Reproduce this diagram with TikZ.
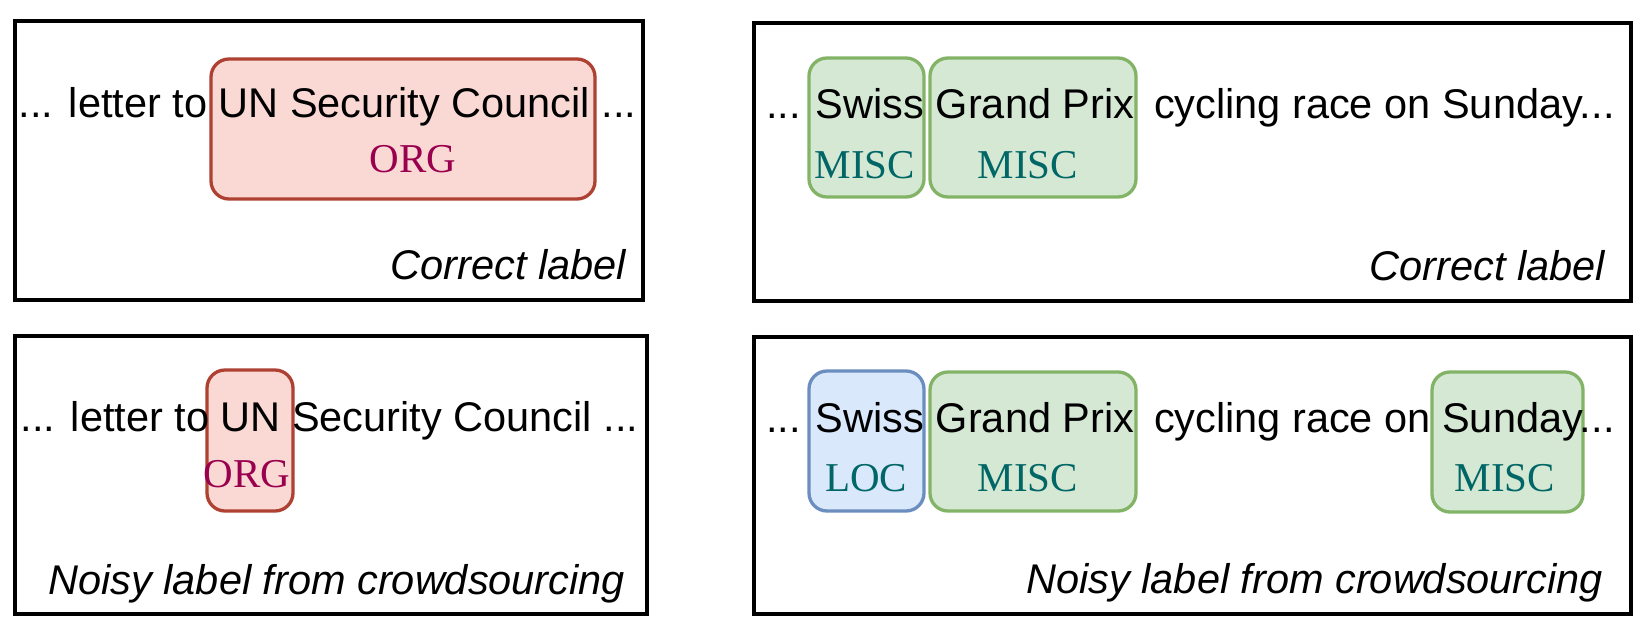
\documentclass[tikz,border=0pt]{standalone}
\usepackage{fontspec}
\newfontfamily\sentfont{Liberation Sans}
\newfontfamily\labfont{Liberation Serif}
\definecolor{redfill}{HTML}{FAD9D5}
\definecolor{redline}{HTML}{AE4132}
\definecolor{greenfill}{HTML}{D5E8D4}
\definecolor{greenline}{HTML}{82B366}
\definecolor{bluefill}{HTML}{DAE8FC}
\definecolor{blueline}{HTML}{6C8EBF}
\definecolor{orgcol}{HTML}{99004D}
\definecolor{misccol}{HTML}{006666}
\begin{document}
\begin{tikzpicture}[x=1pt,y=-1pt,
  panel/.style={draw=black,line width=3.2pt},
  entity/.style={line width=3.3pt,rounded corners=18pt},
  redent/.style={entity,draw=redline,fill=redfill},
  greenent/.style={entity,draw=greenline,fill=greenfill},
  blueent/.style={entity,draw=blueline,fill=bluefill},
  sent/.style={inner sep=0pt,outer sep=0pt,font=\sentfont\fontsize{41.5}{50}\selectfont},
  note/.style={inner sep=0pt,outer sep=0pt,font=\sentfont\itshape\fontsize{41.5}{50}\selectfont,anchor=base east},
  tag/.style={inner sep=0pt,outer sep=0pt,anchor=base,font=\labfont\fontsize{41}{48}\selectfont},
  orgtag/.style={tag,text=orgcol},
  misctag/.style={tag,text=misccol}]
\useasboundingbox (0,0) rectangle (1650,630);
% panels
\draw[panel] (15,21) rectangle (643,300);
\draw[panel] (754,23) rectangle (1631,301);
\draw[panel] (15,336) rectangle (647,614);
\draw[panel] (754,337) rectangle (1631,614);
% entity boxes
\draw[redent] (211,59) rectangle (595,199);
\draw[greenent] (809,58) rectangle (924,197);
\draw[greenent] (930,58) rectangle (1136,197);
\draw[redent] (207,370) rectangle (293,511);
\draw[blueent] (809,371) rectangle (924,511);
\draw[greenent] (930,372) rectangle (1136,511);
\draw[greenent] (1432,372) rectangle (1583,512);
% sentences
\node[sent,anchor=base] (tls) at (327.5,117) {... letter to UN Security Council ...};
\node[sent,anchor=base west] (trsa) at (766,118) {... Swiss Grand Prix};
\node[sent,anchor=base west] (trsb) at (1154,118) {cycling race on Sunday...};
\node[sent,anchor=base] (bls) at (329.5,431) {... letter to UN Security Council ...};
\node[sent,anchor=base west] (brsa) at (766,432) {... Swiss Grand Prix};
\node[sent,anchor=base west] (brsb) at (1154,432) {cycling race on Sunday...};
% tags
\node[orgtag] (tlorg) at (413,172) {ORG};
\node[misctag] (trm1) at (865,178) {MISC};
\node[misctag] (trm2) at (1028,178) {MISC};
\node[orgtag] (blorg) at (247,487) {ORG};
\node[misctag] (brloc) at (866,491) {LOC};
\node[misctag] (brm2) at (1028,491) {MISC};
\node[misctag] (brm3) at (1505,491) {MISC};
% notes
\node[note] (tln) at (626,279) {Correct label};
\node[note] (trn) at (1605,280) {Correct label};
\node[note] (bln) at (625,594) {Noisy label from crowdsourcing};
\node[note] (brn) at (1603,593) {Noisy label from crowdsourcing};
\end{tikzpicture}
\end{document}
